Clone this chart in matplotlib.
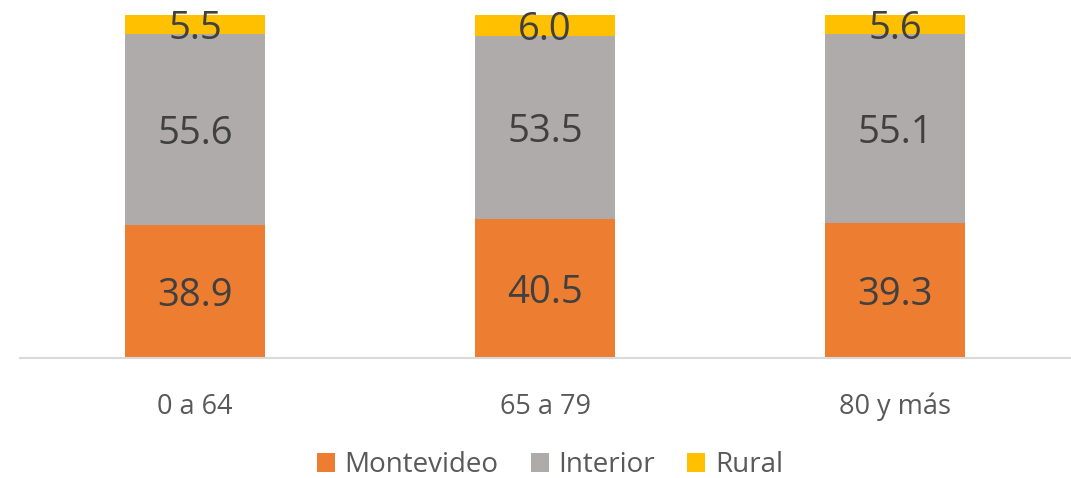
import matplotlib
matplotlib.use("Agg")
import matplotlib.pyplot as plt
from matplotlib.patches import Patch

categories = ["0 a 64", "65 a 79", "80 y más"]
series_names = ["Montevideo", "Interior", "Rural"]
montevideo = [38.9, 40.5, 39.3]
interior = [55.6, 53.5, 55.1]
rural = [5.5, 6.0, 5.6]
colors = ["#ED7D31", "#AFABAB", "#FFC000"]

plt.rcParams['font.family'] = ['Open Sans', 'DejaVu Sans']

fig = plt.figure(figsize=(10.71, 4.78), dpi=100)
ax = fig.add_axes([20/1071, (478-358)/478, 1050/1071, (358-15)/478])

x = list(range(len(categories)))
bottom = [0.0]*len(categories)
for name, vals, c in zip(series_names, [montevideo, interior, rural], colors):
    bars = ax.bar(x, vals, width=0.4, bottom=bottom, color=c, label=name, zorder=2)
    for xi, b, v in zip(x, bottom, vals):
        ax.text(xi, b + v/2, f"{v:.1f}", ha='center', va='center_baseline',
                fontsize=27.5, color='#404040', zorder=3)
    bottom = [b + v for b, v in zip(bottom, vals)]

ax.set_xlim(-0.5, 2.5)
ax.set_ylim(0, 100)
ax.set_yticks([])
ax.set_xticks(x)
ax.set_xticklabels(categories, fontsize=19.5, color='#595959')
ax.tick_params(axis='x', length=0, pad=25)
for s in ['top', 'right', 'left']:
    ax.spines[s].set_visible(False)
ax.spines['bottom'].set_color('#D9D9D9')
ax.spines['bottom'].set_linewidth(1.5)

handles = [Patch(facecolor=c, label=n) for n, c in zip(series_names, colors)]
fig.legend(handles=handles, loc='center', bbox_to_anchor=(550/1071, 1-465/478),
           ncol=3, frameon=False, fontsize=20, handlelength=0.65, handleheight=0.65,
           handletextpad=0.36, columnspacing=1.15, labelcolor='#595959')

fig.savefig("out.png", dpi=100)
